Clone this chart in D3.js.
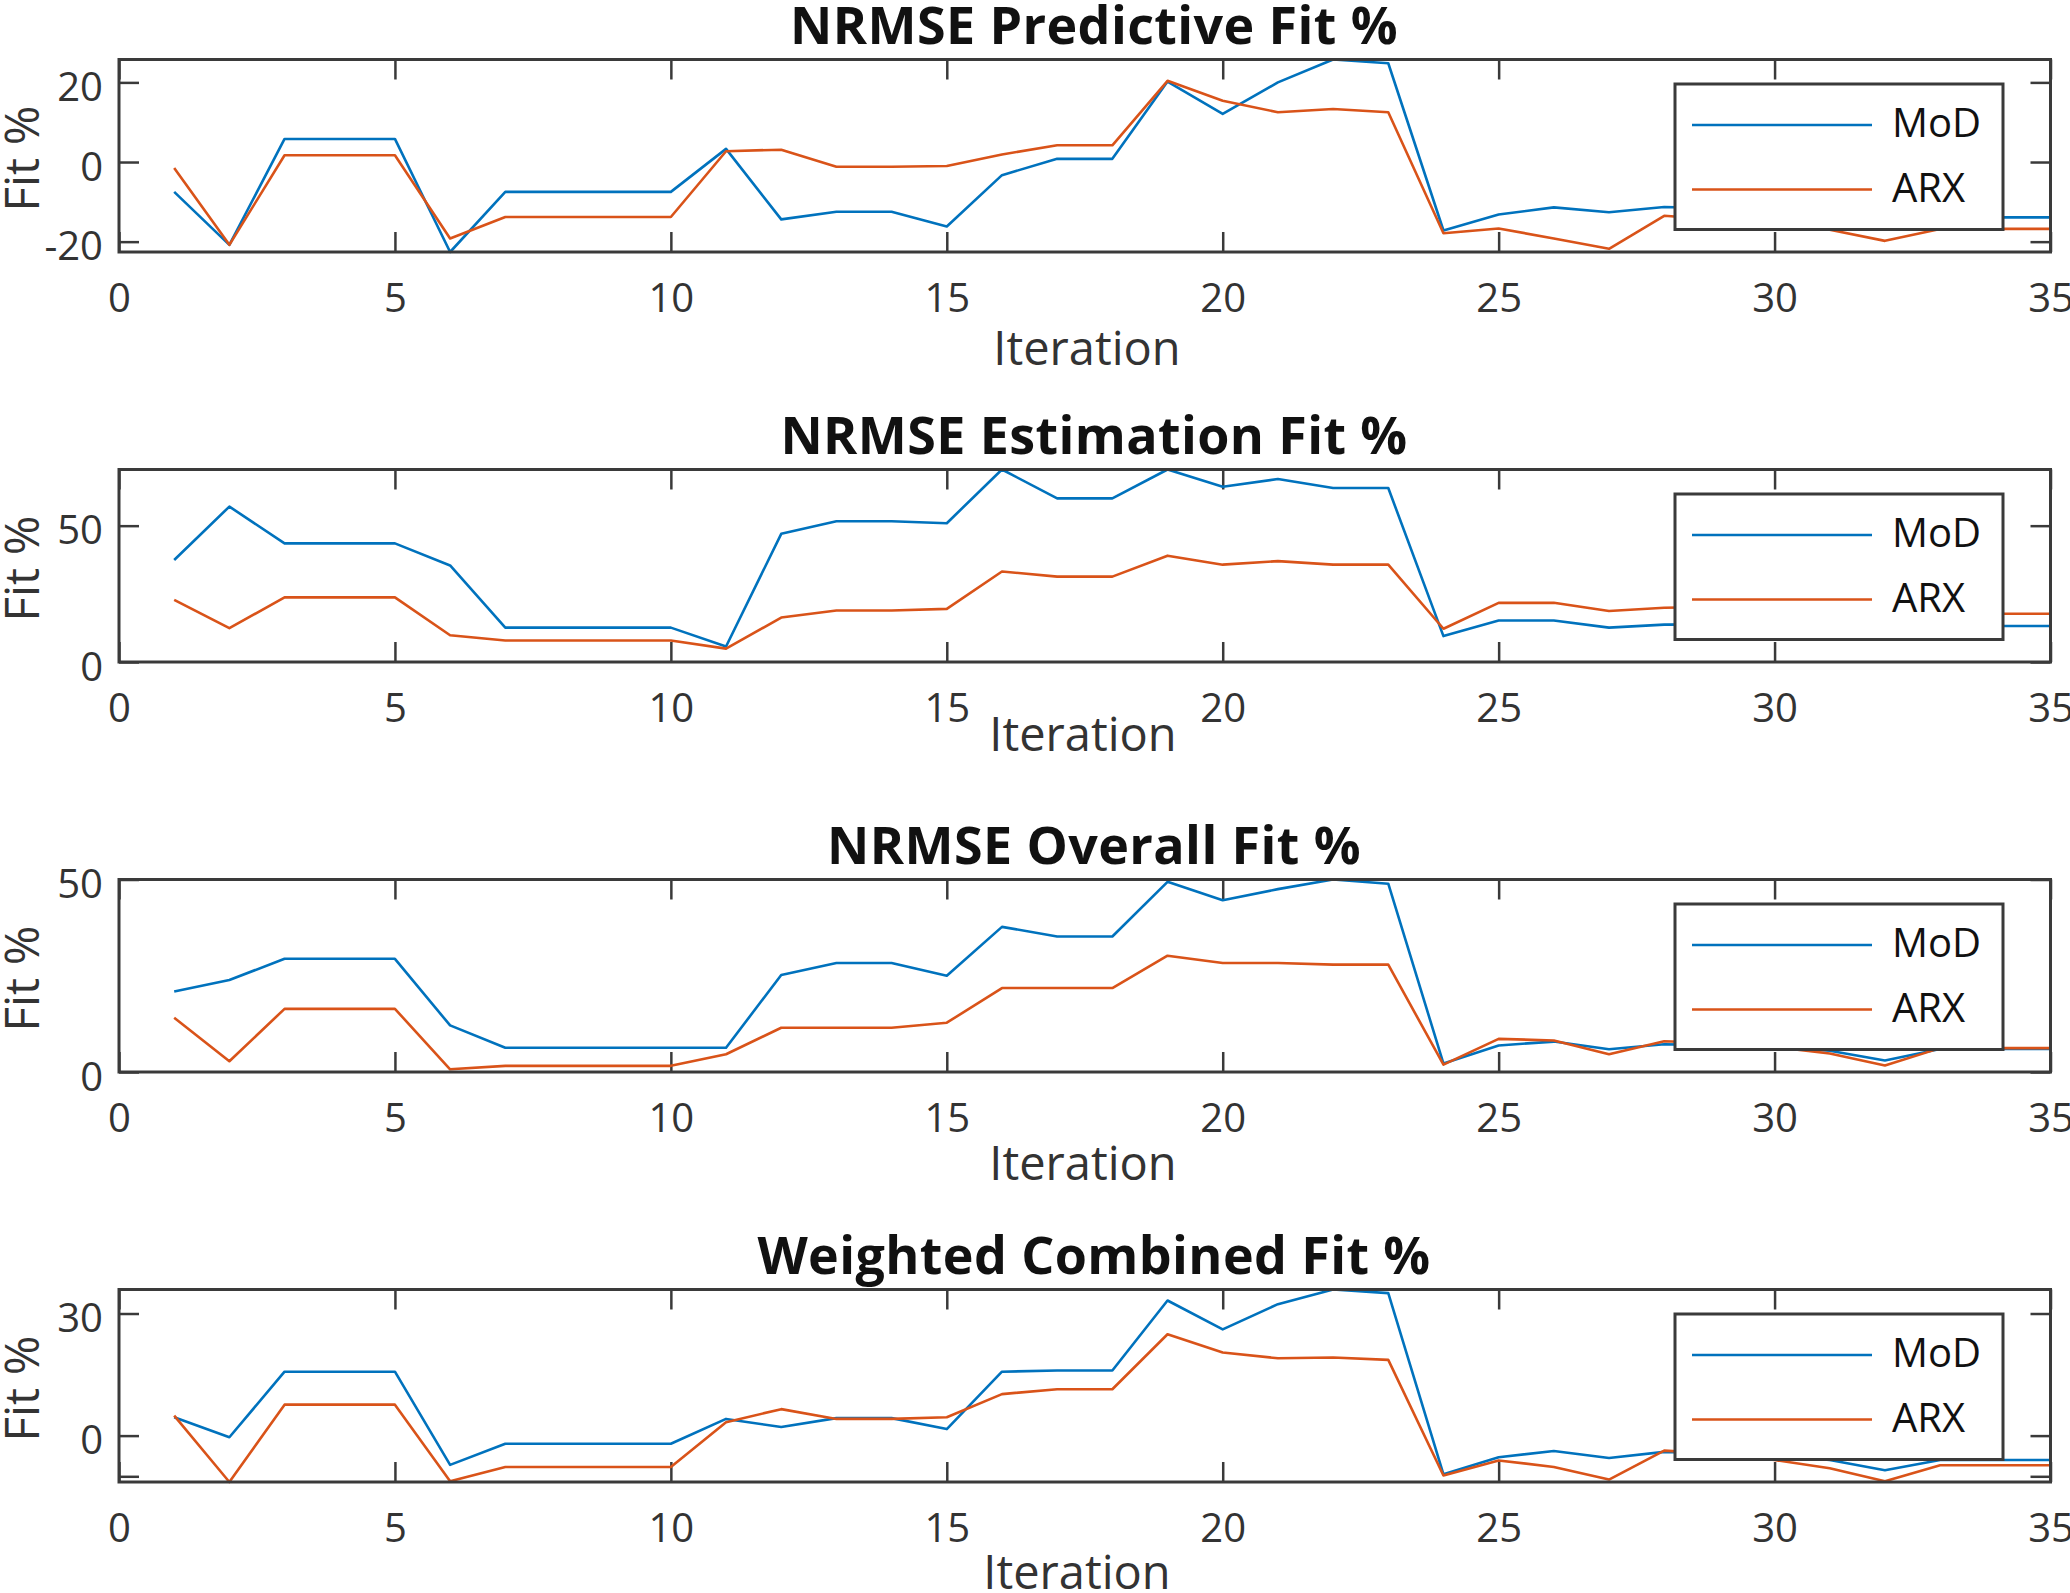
<!DOCTYPE html>
<html>
<head>
<meta charset="utf-8">
<script src="https://cdn.jsdelivr.net/npm/d3@7"></script>
<style>
  html, body { margin: 0; padding: 0; background: #fff; }
  svg { display: block; }
</style>
</head>
<body>
<svg id="chart" width="2070" height="1593"></svg>
<script>
// ---------------- data ----------------
const iterations = d3.range(1, 36);
const seriesNames = ["MoD", "ARX"];
const titles = ["NRMSE Predictive Fit %", "NRMSE Estimation Fit %", "NRMSE Overall Fit %", "Weighted Combined Fit %"];
const xLabel = "Iteration";
const yLabel = "Fit %";
const xTicks = [0, 5, 10, 15, 20, 25, 30, 35];

const predMoD = [-7.5, -20.8, 5.8, 5.8, 5.8, -22.6, -7.5, -7.5, -7.5, -7.5, 3.3, -14.4, -12.5, -12.5, -16.2, -3.3, 0.8, 0.8, 20.2, 12.1, 20.0, 25.75, 24.8, -17.2, -13.2, -11.4, -12.6, -11.3, -11.6, -12.0, -12.8, -14.5, -13.9, -13.9, -13.9];
const predARX = [-1.5, -20.8, 1.7, 1.7, 1.7, -19.2, -13.8, -13.8, -13.8, -13.8, 2.7, 3.1, -1.2, -1.2, -1.0, 1.9, 4.2, 4.2, 20.4, 15.4, 12.5, 13.3, 12.5, -17.9, -16.7, -19.2, -21.8, -13.5, -14.5, -15.8, -17.0, -19.8, -16.8, -16.8, -16.8];

const estMoD = [37.4, 57.0, 43.5, 43.5, 43.5, 35.4, 12.6, 12.6, 12.6, 12.6, 5.7, 47.0, 51.6, 51.6, 50.9, 70.6, 60.0, 60.0, 70.6, 64.3, 67.1, 63.8, 63.8, 9.5, 15.2, 15.2, 12.6, 13.7, 13.8, 13.6, 13.4, 13.0, 13.2, 13.2, 13.2];
const estARX = [22.8, 12.4, 23.7, 23.7, 23.7, 9.8, 7.9, 7.9, 7.9, 7.9, 4.9, 16.3, 18.9, 18.9, 19.5, 33.2, 31.3, 31.3, 39.0, 35.7, 37.0, 35.7, 35.7, 12.2, 21.7, 21.7, 18.7, 19.9, 20.2, 19.5, 18.8, 17.5, 17.7, 17.7, 17.7];

const overMoD = [20.9, 23.9, 29.4, 29.4, 29.4, 12.1, 6.3, 6.3, 6.3, 6.3, 6.3, 25.2, 28.3, 28.3, 25.0, 37.7, 35.2, 35.2, 49.4, 44.6, 47.5, 50.0, 48.9, 2.2, 6.9, 7.9, 5.9, 7.2, 7.0, 6.5, 5.5, 3.0, 6.0, 6.0, 6.0];
const overARX = [14.1, 2.8, 16.4, 16.4, 16.4, 0.7, 1.6, 1.6, 1.6, 1.6, 4.6, 11.5, 11.5, 11.5, 12.8, 21.8, 21.8, 21.8, 30.2, 28.3, 28.3, 27.9, 27.9, 1.9, 8.6, 8.2, 4.6, 8.0, 7.5, 6.5, 4.8, 1.7, 6.2, 6.2, 6.2];

const combMoD = [4.5, -0.4, 15.7, 15.7, 15.7, -7.2, -2.0, -2.0, -2.0, -2.0, 4.1, 2.1, 4.3, 4.3, 1.6, 15.7, 16.0, 16.0, 33.2, 26.1, 32.3, 35.9, 35.0, -9.5, -5.3, -3.8, -5.5, -4.0, -4.3, -4.8, -6.0, -8.5, -6.0, -6.0, -6.0];
const combARX = [4.9, -11.4, 7.6, 7.6, 7.6, -11.2, -7.7, -7.7, -7.7, -7.7, 3.3, 6.5, 4.1, 4.1, 4.5, 10.2, 11.4, 11.4, 24.9, 20.4, 19.0, 19.2, 18.6, -9.8, -6.1, -7.7, -10.8, -3.7, -4.5, -6.0, -8.0, -11.2, -7.3, -7.3, -7.3];

const yTicks = [[-20, 0, 20], [0, 50], [0, 50], [-10, 0, 30]];
const yTickLabels = [["-20", "0", "20"], ["0", "50"], ["0", "50"], ["", "0", "30"]];

// ---------------- layout / style ----------------
const colors = ["#0072BD", "#D95319"];
const panels = [
  { title: titles[0], series: [predMoD, predARX] },
  { title: titles[1], series: [estMoD, estARX] },
  { title: titles[2], series: [overMoD, overARX] },
  { title: titles[3], series: [combMoD, combARX] }
];
const L = 119, R = 2050.5, H = 192.5, top0 = 59.5, step = 410;
const xLabelOffsets = [113, 89, 108, 107];
const xLabelCenters = [1087, 1083, 1083, 1077];
const FONT = "'Open Sans', 'Noto Sans', sans-serif";
const TXT = "#333333";
const AX = "#3a3a3a";

const svg = d3.select("#chart");
const x = d3.scaleLinear().domain([0, 35]).range([L, R]);

panels.forEach((p, k) => {
  const T = top0 + k * step, B = T + H;
  const all = p.series.flat();
  const y = d3.scaleLinear().domain([Math.min(0, d3.min(all)), d3.max(all)]).range([B, T]);
  const g = svg.append("g");

  // x axis bottom (inward ticks)
  const xb = g.append("g").attr("transform", `translate(0,${B})`)
    .call(d3.axisBottom(x).tickValues(xTicks).tickSizeInner(-20).tickSizeOuter(0).tickFormat(d3.format("d")));
  xb.selectAll("text").attr("y", 60).attr("dy", 0).attr("fill", TXT)
    .style("font-family", FONT).style("font-size", "40px");
  // x axis top
  g.append("g").attr("transform", `translate(0,${T})`)
    .call(d3.axisTop(x).tickValues(xTicks).tickSizeInner(-20).tickSizeOuter(0).tickFormat(""));
  // y axis left
  const yl = g.append("g").attr("transform", `translate(${L},0)`)
    .call(d3.axisLeft(y).tickValues(yTicks[k]).tickSizeInner(-20).tickSizeOuter(0)
      .tickFormat((d, i) => yTickLabels[k][i]));
  yl.selectAll("text").attr("x", -16).attr("dy", "0.45em").attr("fill", TXT)
    .style("font-family", FONT).style("font-size", "40px");
  // y axis right
  g.append("g").attr("transform", `translate(${R},0)`)
    .call(d3.axisRight(y).tickValues(yTicks[k]).tickSizeInner(-20).tickSizeOuter(0).tickFormat(""));

  g.selectAll(".tick line").attr("stroke", AX).attr("stroke-width", 2.5);
  g.selectAll(".domain").attr("stroke", "none");

  // data lines
  const line = d3.line().x((d, i) => x(iterations[i])).y(d => y(d));
  p.series.forEach((s, si) => {
    g.append("path").datum(s).attr("d", line)
      .attr("fill", "none").attr("stroke", colors[si]).attr("stroke-width", 2.6)
      .attr("stroke-linejoin", "round");
  });

  // box
  g.append("rect").attr("x", L).attr("y", T).attr("width", R - L).attr("height", H)
    .attr("fill", "none").attr("stroke", AX).attr("stroke-width", 3);

  // title
  g.append("text").attr("x", 1094).attr("y", T - 16).attr("text-anchor", "middle")
    .attr("fill", "#111").style("font-family", FONT).style("font-weight", 700)
    .style("font-size", "52px").style("letter-spacing", "0.4px").text(p.title);

  // x label
  g.append("text").attr("x", xLabelCenters[k]).attr("y", B + xLabelOffsets[k])
    .attr("text-anchor", "middle").attr("fill", TXT)
    .style("font-family", FONT).style("font-size", "47px").text(xLabel);

  // y label
  g.append("text").attr("transform", `translate(39,${(T + B) / 2 + 3}) rotate(-90)`)
    .attr("text-anchor", "middle").attr("fill", TXT)
    .style("font-family", FONT).style("font-size", "48px").text(yLabel);

  // legend
  const lg = g.append("g").attr("transform", `translate(1675,${T + 24.5})`);
  lg.append("rect").attr("width", 328).attr("height", 145.5)
    .attr("fill", "#fff").attr("stroke", AX).attr("stroke-width", 3);
  seriesNames.forEach((n, si) => {
    const ly = 41 + si * 64.5;
    lg.append("line").attr("x1", 17).attr("x2", 197).attr("y1", ly).attr("y2", ly)
      .attr("stroke", colors[si]).attr("stroke-width", 2.6);
    lg.append("text").attr("x", 217).attr("y", ly + 12).attr("fill", "#111")
      .style("font-family", FONT).style("font-size", "40px").text(n);
  });
});
</script>
</body>
</html>
